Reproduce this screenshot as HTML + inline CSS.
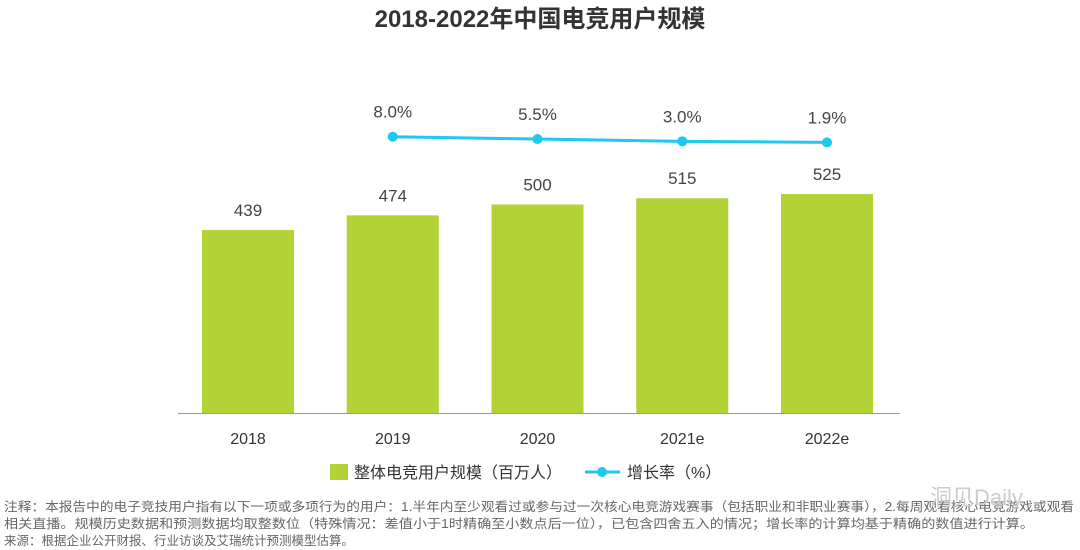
<!DOCTYPE html>
<html><head><meta charset="utf-8"><style>
body{margin:0;background:#fff;width:1080px;height:550px;overflow:hidden;font-family:"Liberation Sans","Noto Sans CJK SC",sans-serif;}
svg{display:block}
</style></head><body>
<svg id="c" width="1080" height="550">
<text x="540" y="27" text-anchor="middle" font-size="24" font-weight="bold" fill="#333">2018-2022年中国电竞用户规模</text>
<line x1="178" y1="413.5" x2="900" y2="413.5" stroke="#999" stroke-width="1"/>
<g id="bars"></g><g id="line"></g><g id="xl"></g>
<g>
<rect x="330" y="464" width="18" height="16" fill="#b2d235"/>
<text x="354" y="478" font-size="16" fill="#333">整体电竞用户规模（百万人）</text>
<line x1="585" y1="472" x2="620" y2="472" stroke="#1ec8ee" stroke-width="3"/>
<circle cx="602" cy="472" r="5" fill="#1ec8ee"/>
<text x="627" y="478" font-size="16" fill="#333">增长率（%）</text>
</g>
<g font-size="12.5" fill="#666">
<text x="4" y="511" textLength="1070" lengthAdjust="spacingAndGlyphs">注释：本报告中的电子竞技用户指有以下一项或多项行为的用户：1.半年内至少观看过或参与过一次核心电竞游戏赛事（包括职业和非职业赛事），2.每周观看核心电竞游戏或观看</text>
<text x="4" y="528" textLength="1030" lengthAdjust="spacingAndGlyphs">相关直播。规模历史数据和预测数据均取整数位（特殊情况：差值小于1时精确至小数点后一位），已包含四舍五入的情况；增长率的计算均基于精确的数值进行计算。</text>
<text x="4" y="545">来源：根据企业公开财报、行业访谈及艾瑞统计预测模型估算。</text>
</g>
<text x="930" y="505" font-size="22" fill="#ccc">洞见Daily</text>
</svg>
<script>
const categories=["2018","2019","2020","2021e","2022e"];
const users=[439,474,500,515,525];
const growth=[null,8.0,5.5,3.0,1.9];
const growthLabels=["","8.0%","5.5%","3.0%","1.9%"];
const NS="http://www.w3.org/2000/svg";
function xPos(i){return 248+i*144.75;}
function yBar(v){return 413-v*0.417;}
function yLine(v){return 144.1-v*0.92;}
function mk(tag,attrs,parent,txt){const e=document.createElementNS(NS,tag);for(const k in attrs)e.setAttribute(k,attrs[k]);if(txt!==undefined)e.textContent=txt;parent.appendChild(e);return e;}
const bars=document.getElementById('bars'),line=document.getElementById('line'),xl=document.getElementById('xl');
users.forEach((v,i)=>{
 const r=mk('rect',{x:xPos(i)-46,y:yBar(v),width:92,height:413-yBar(v),fill:'#b2d235'},bars);
 
 
 const t=mk('text',{x:xPos(i),y:yBar(v)-14,'text-anchor':'middle','font-size':17,fill:'#444'},bars,String(v));
 
 
 const c=mk('text',{x:xPos(i),y:444,'text-anchor':'middle','font-size':16,fill:'#333'},xl,categories[i]);
 
 
});
let pts=[];
growth.forEach((v,i)=>{if(v!==null)pts.push([xPos(i),yLine(v),i]);});
const pl=mk('polyline',{points:pts.map(p=>p[0]+','+p[1]).join(' '),fill:'none',stroke:'#1ec8ee','stroke-width':3},line);


pts.forEach(p=>{
 const c=mk('circle',{cx:p[0],cy:p[1],r:5,fill:'#1ec8ee'},line);
 
 
 const t=mk('text',{x:p[0],y:p[1]-19,'text-anchor':'middle','font-size':17,fill:'#444'},line,growthLabels[p[2]]);
 
 
});
</script>
</body></html>
